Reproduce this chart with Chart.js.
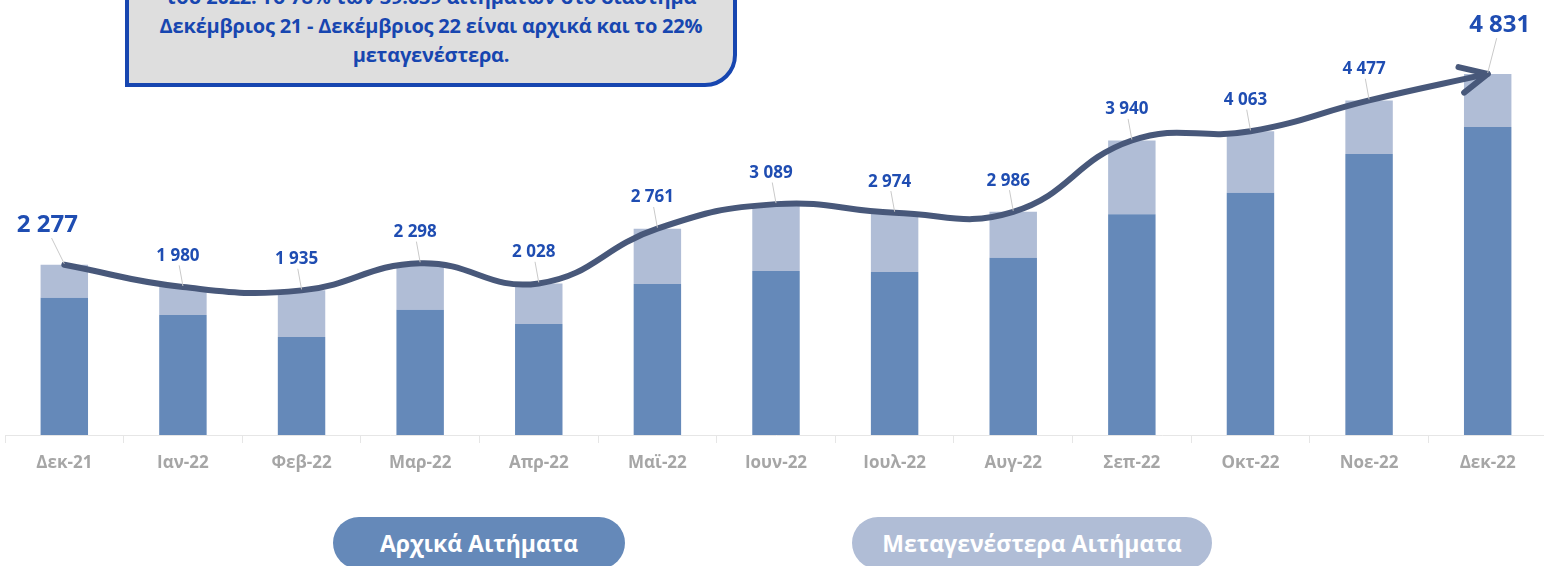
<!DOCTYPE html>
<html lang="el">
<head>
<meta charset="utf-8">
<title>Αιτήματα Δεκ-21 - Δεκ-22</title>
<script src="https://cdn.jsdelivr.net/npm/chart.js@4.4.1/dist/chart.umd.min.js"></script>
<style>
  html, body { margin: 0; padding: 0; background: #fff; overflow: hidden; }
  body { width: 1544px; height: 566px; position: relative; font-family: "Open Sans", sans-serif; }
  #wrap { position: absolute; left: 0; top: 0; width: 1547px; height: 566px; }
  .note {
    position: absolute; left: 125px; top: -22px; width: 604px; height: 101px;
    background: #dedede; border: 4px solid #1746b0; border-bottom-right-radius: 32px;
    color: #1746b0; font-weight: bold; font-size: 20px; line-height: 29px; text-align: center;
    white-space: nowrap; letter-spacing: -0.2px;
  }
  .pill {
    position: absolute; top: 517px; height: 52px; border-radius: 26px; color: #fff;
    font-weight: bold; font-size: 23px; display: flex; align-items: center; justify-content: center;
  }
</style>
</head>
<body>
<div id="wrap"><canvas id="chart" width="1547" height="566"></canvas></div>

<div class="note">
  του 2022. Το 78% των 39.639 αιτημάτων στο διάστημα<br>
  Δεκέμβριος 21 - Δεκέμβριος 22 είναι αρχικά και το 22%<br>
  μεταγενέστερα.
</div>

<div class="pill" style="left:333px; width:292px; background:#6589b9;">Αρχικά Αιτήματα</div>
<div class="pill" style="left:852px; width:360px; background:#b0bdd6;">Μεταγενέστερα Αιτήματα</div>

<script>
const months = ['Δεκ-21', 'Ιαν-22', 'Φεβ-22', 'Μαρ-22', 'Απρ-22', 'Μαϊ-22', 'Ιουν-22',
                'Ιουλ-22', 'Αυγ-22', 'Σεπ-22', 'Οκτ-22', 'Νοε-22', 'Δεκ-22'];
const totalRequests = [2277, 1980, 1935, 2298, 2028, 2761, 3089, 2974, 2986, 3940, 4063, 4477, 4831];
const initialRequests = [1835, 1605, 1310, 1675, 1485, 2020, 2195, 2180, 2370, 2955, 3240, 3760, 4120];
const laterRequests = totalRequests.map((t, i) => t - initialRequests[i]);

const blueText = '#1f4db2';
const trendColor = '#48587a';

function fmt(v) {
    return String(v).replace(/\B(?=(\d{3})+(?!\d))/g, ' ');
}

// arrow head at the end of the trend line
const arrowPlugin = {
    id: 'arrowHead',
    afterDatasetsDraw(chart) {
        const meta = chart.getDatasetMeta(2);
        const pts = meta.data;
        const tip = pts[pts.length - 1];
        const ref = pts[pts.length - 2];
        const back = Math.atan2(ref.y - tip.y, ref.x - tip.x);
        const ctx = chart.ctx;
        const len = 30, spread = 0.45;
        ctx.save();
        ctx.strokeStyle = trendColor;
        ctx.lineWidth = 6;
        ctx.lineCap = 'round';
        ctx.lineJoin = 'round';
        ctx.beginPath();
        ctx.moveTo(tip.x + len * Math.cos(back - spread), tip.y + len * Math.sin(back - spread));
        ctx.lineTo(tip.x, tip.y);
        ctx.lineTo(tip.x + len * Math.cos(back + spread), tip.y + len * Math.sin(back + spread));
        ctx.stroke();
        ctx.restore();
    }
};

// value labels with small leader lines
const labelPlugin = {
    id: 'totalLabels',
    afterDraw(chart) {
        const meta = chart.getDatasetMeta(2);
        const ctx = chart.ctx;
        const last = totalRequests.length - 1;
        ctx.save();
        meta.data.forEach((pt, i) => {
            let size = 17, dx = -5, dy = -31;
            if (i === 0) { size = 24; dx = -17; dy = -40; }
            if (i === last) { size = 24; dx = 12; dy = -49; }
            const lx = pt.x + dx, ly = pt.y + dy;
            ctx.strokeStyle = '#c9c9c9';
            ctx.lineWidth = 1;
            ctx.beginPath();
            ctx.moveTo(lx + (pt.x - lx) * 0.25, ly + size * 0.55);
            ctx.lineTo(pt.x, pt.y - 1);
            ctx.stroke();
            ctx.fillStyle = blueText;
            ctx.font = 'bold ' + size + 'px "Open Sans"';
            ctx.textAlign = 'center';
            ctx.textBaseline = 'middle';
            ctx.fillText(fmt(totalRequests[i]), lx, ly);
        });
        ctx.restore();
    }
};

Chart.defaults.font.family = '"Open Sans", sans-serif';

new Chart(document.getElementById('chart'), {
    type: 'bar',
    data: {
        labels: months,
        datasets: [
            {
                label: 'Αρχικά Αιτήματα',
                data: initialRequests,
                backgroundColor: '#6589b9',
                order: 1,
                stack: 'req',
                yAxisID: 'y'
            },
            {
                label: 'Μεταγενέστερα Αιτήματα',
                data: laterRequests,
                backgroundColor: '#b0bdd6',
                order: 2,
                stack: 'req',
                yAxisID: 'y'
            },
            {
                type: 'line',
                label: 'Σύνολο',
                data: totalRequests,
                borderColor: trendColor,
                borderWidth: 6,
                borderCapStyle: 'round',
                tension: 0.45,
                pointRadius: 0,
                fill: false,
                clip: false,
                order: 0,
                yAxisID: 'yLine'
            }
        ]
    },
    options: {
        responsive: false,
        animation: false,
        layout: { padding: { left: 5, right: 0, top: 0, bottom: 0 } },
        datasets: {
            bar: { barPercentage: 0.4, categoryPercentage: 1 }
        },
        plugins: {
            legend: { display: false },
            tooltip: { enabled: false }
        },
        scales: {
            x: {
                stacked: true,
                afterFit(scale) { scale.height = 131; },
                grid: {
                    offset: true,
                    drawOnChartArea: false,
                    drawTicks: true,
                    tickLength: 8,
                    color: '#e6e6e6'
                },
                border: { display: true, color: '#e6e6e6' },
                ticks: {
                    color: '#a6a6a6',
                    padding: 10,
                    font: { size: 17, weight: 'bold' }
                }
            },
            y: { display: false, stacked: true, min: 0, max: 5820 },
            yLine: { display: false, min: 0, max: 5820 }
        }
    },
    plugins: [arrowPlugin, labelPlugin]
});
</script>
</body>
</html>
